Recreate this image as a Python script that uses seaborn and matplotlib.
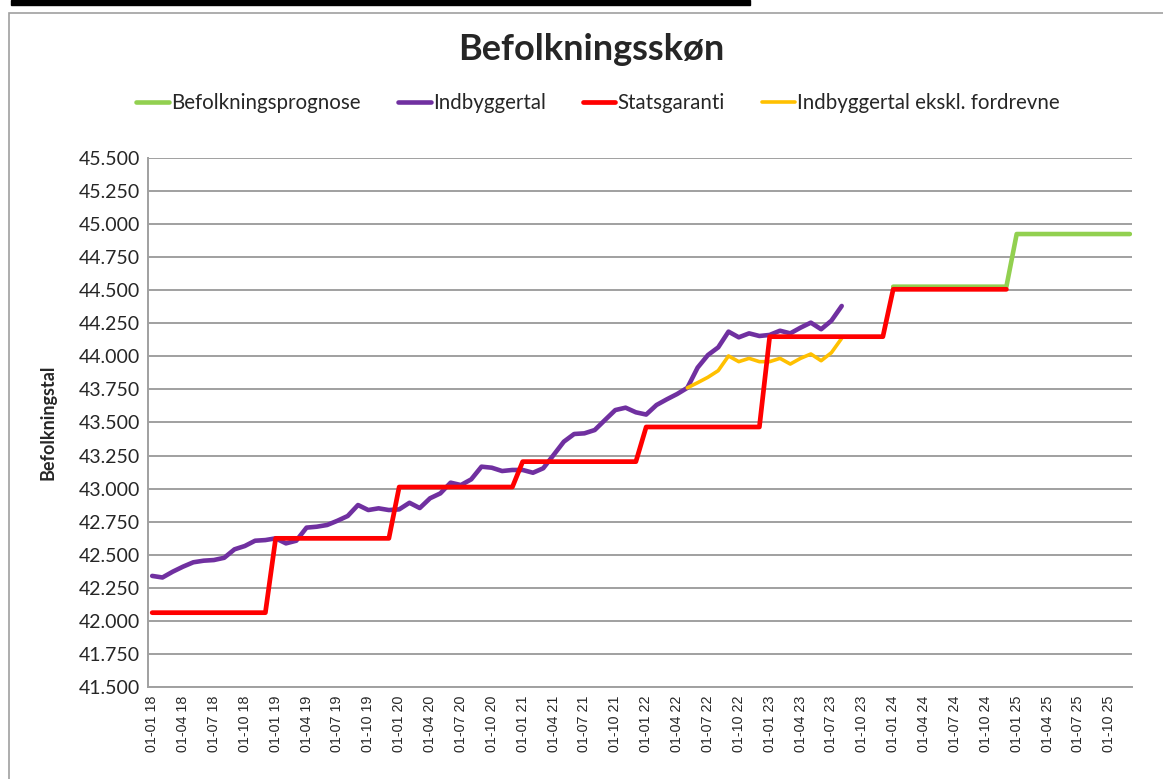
import matplotlib
matplotlib.use("Agg")
import matplotlib.pyplot as plt
from matplotlib.patches import Rectangle
import seaborn as sns
import pandas as pd
import numpy as np

# months from Jan 2018 (0) to Dec 2025 (95)
months = list(range(96))
tick_labels = [f"01-{m:02d} {y}" for y in range(18, 26) for m in (1, 4, 7, 10)]

indbyggertal = [42340, 42328, 42372, 42410, 42443, 42455, 42460, 42477, 42541, 42566,
                42606, 42611, 42624, 42586, 42606, 42705, 42712, 42725, 42757, 42793,
                42876, 42838, 42851, 42838, 42843, 42893, 42853, 42927, 42964, 43045,
                43027, 43070, 43166, 43158, 43133, 43141, 43141, 43120, 43154, 43254,
                43355, 43413, 43418, 43443, 43519, 43594, 43612, 43577, 43560, 43632,
                43675, 43715, 43762, 43915, 44010, 44068, 44187, 44144, 44174, 44154,
                44162, 44194, 44174, 44217, 44255, 44205, 44270, 44381]

ekskl_fordrevne = [43762, 43801, 43842, 43892, 44003, 43960, 43985, 43960, 43960, 43985,
                   43942, 43985, 44018, 43967, 44028, 44137]
ekskl_start = 52

statsgaranti_levels = [42062, 42624, 43012, 43204, 43466, 44149, 44507]  # one per year 2018-2024
prognose_levels = [44527, 44925]  # 2024, 2025
prognose_start = 72

n = len(months)
s_indb = pd.Series(indbyggertal + [np.nan] * (n - len(indbyggertal)), index=months)
s_eks = pd.Series([np.nan] * ekskl_start + ekskl_fordrevne
                  + [np.nan] * (n - ekskl_start - len(ekskl_fordrevne)), index=months)
s_stat = pd.Series(np.repeat(statsgaranti_levels, 12).tolist()
                   + [np.nan] * (n - 12 * len(statsgaranti_levels)), index=months)
s_prog = pd.Series([np.nan] * prognose_start + np.repeat(prognose_levels, 12).tolist(),
                   index=months)

sns.set_theme(style="white")
plt.rcParams['font.family'] = ['Lato', 'DejaVu Sans']

fig = plt.figure(figsize=(11.63, 7.79), dpi=100)
ax = fig.add_axes([0.1273, 0.1181, 0.9733 - 0.1273, 0.7972 - 0.1181])

series = [
    ("Befolkningsprognose", s_prog, "#92D050", 3.3, 2),
    ("Indbyggertal", s_indb, "#7030A0", 3.3, 3),
    ("Statsgaranti", s_stat, "#FF0000", 3.4, 5),
    ("Indbyggertal ekskl. fordrevne", s_eks, "#FFC000", 2.6, 4),
]
for name, s, col, lw, z in series:
    d = s.dropna()
    sns.lineplot(x=d.index, y=d.values, ax=ax, color=col, linewidth=lw,
                 label=name, zorder=z, solid_capstyle='round')

ax.set_ylim(41500, 45500)
ax.set_xlim(-0.4, 95.2)
yt = np.arange(41500, 45501, 250)
ax.set_yticks(yt)
ax.set_yticklabels([f"{v:,.0f}".replace(",", ".") for v in yt], fontsize=14)
ax.set_xticks(months[::3])
ax.set_xticklabels(tick_labels, rotation=90, fontsize=10.3, family='Liberation Sans')
ax.tick_params(axis='y', pad=6, length=0)
ax.tick_params(axis='x', pad=6, length=0)
ax.yaxis.grid(True, color='#a0a0a0', linewidth=1.4)
ax.set_axisbelow(True)
for sp in ['top', 'right']:
    ax.spines[sp].set_visible(False)
for sp in ['left', 'bottom']:
    ax.spines[sp].set_color('#a0a0a0')
    ax.spines[sp].set_linewidth(1.4)

ax.set_ylabel("Befolkningstal", fontsize=13, fontweight='bold', labelpad=16)
ax.set_xlabel("")

ax.legend(loc='center', bbox_to_anchor=(0.514, 0.868), bbox_transform=fig.transFigure,
          ncol=4, frameon=False, fontsize=14.8, handlelength=1.6,
          handletextpad=0.1, columnspacing=1.8)

fig.text(0.508, 0.936, "Befolkningsskøn", ha='center', va='center',
         fontsize=26, fontweight='bold')

# chart frame and cut-off heading bar from the document
fig.patches.append(Rectangle((9 / 1163, -0.05), 1.2, 1 - 13 / 779 + 0.05,
                             transform=fig.transFigure, fill=False,
                             edgecolor='#a0a0a0', linewidth=1.2))
fig.patches.append(Rectangle((11 / 1163, 1 - 5 / 779), 739 / 1163, 5 / 779,
                             transform=fig.transFigure, color='black'))

fig.savefig("out.png", dpi=100, facecolor='white')
